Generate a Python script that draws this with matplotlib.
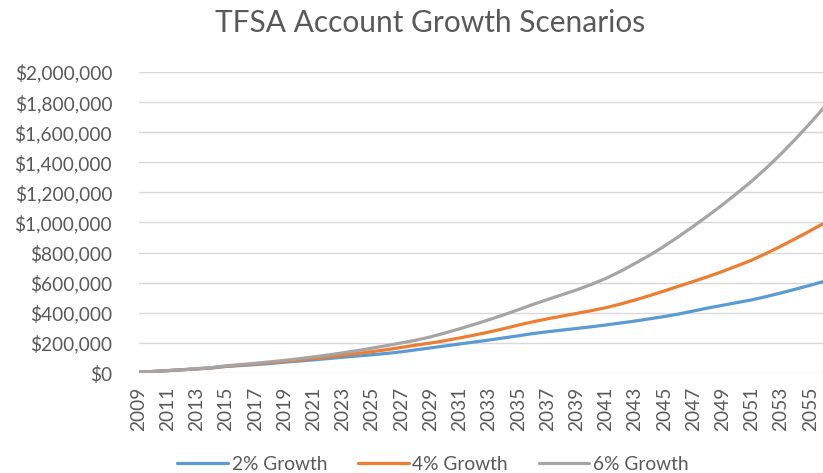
import matplotlib.pyplot as plt
from matplotlib.ticker import FuncFormatter, MultipleLocator

plt.rcParams['font.family'] = ['Lato', 'DejaVu Sans']

# yearly balances; the chart is cropped a little past 2055
years = list(range(2009, 2057))

growth_2 = [5000, 10200, 15600, 21200, 27000, 33000, 43500, 49500, 56000, 63000,
            72000, 79500, 87500, 96000, 105000, 113000, 121500, 130000, 141000, 154000,
            167000, 180000, 193000, 206000, 219000, 233000, 247000, 262000, 274000, 285000,
            296000, 307000, 319000, 332000, 345000, 360000, 375000, 392000, 412000, 432000,
            450000, 468000, 486000, 508000, 532000, 557000, 583000, 610000]

growth_4 = [5000, 10300, 15900, 21800, 28000, 34500, 45500, 52500, 60000, 68000,
            77000, 86500, 96500, 107000, 118000, 129500, 142000, 155000, 170000, 185000,
            199000, 215000, 233000, 252000, 272000, 294000, 318000, 340000, 360000, 378000,
            396000, 414000, 434000, 458000, 485000, 514000, 545000, 577000, 608000, 640000,
            675000, 712000, 750000, 795000, 843000, 893000, 945000, 998000]

growth_6 = [5000, 10300, 16000, 22200, 28800, 36000, 48000, 56000, 64500, 74000,
            84000, 95000, 107000, 120000, 134000, 149000, 165000, 182000, 200000, 218000,
            240000, 266000, 294000, 323000, 354000, 386000, 420000, 455000, 488000, 520000,
            552000, 588000, 628000, 675000, 728000, 782000, 842000, 907000, 975000, 1045000,
            1118000, 1195000, 1275000, 1362000, 1455000, 1555000, 1660000, 1770000]

series = [('2% Growth', growth_2, '#5B9BD5'),
          ('4% Growth', growth_4, '#ED7D31'),
          ('6% Growth', growth_6, '#A5A5A5')]

fig = plt.figure(figsize=(8.23, 4.73), dpi=100)
ax = fig.add_axes([0.1683, 0.2114, 0.8317, 0.6364])

for label, vals, color in series:
    ax.plot(years, vals, color=color, linewidth=2.3, label=label, solid_capstyle='round')

ax.set_xlim(2009, 2055.88)
ax.set_ylim(0, 2000000)
ax.yaxis.set_major_locator(MultipleLocator(200000))
ax.yaxis.set_major_formatter(FuncFormatter(lambda v, p: '${:,.0f}'.format(v)))
tick_years = years[0:47:2]
ax.set_xticks(tick_years)
ax.set_xticklabels([str(y) for y in tick_years], rotation=90)

ax.grid(axis='y', color='#D9D9D9', linewidth=1)
ax.set_axisbelow(True)
for s in ['top', 'right', 'left', 'bottom']:
    ax.spines[s].set_visible(False)
ax.tick_params(axis='both', length=0, labelsize=13.8, labelcolor='#595959')
ax.tick_params(axis='y', pad=19)
ax.tick_params(axis='x', pad=10)

fig.text(0.522, 0.951, 'TFSA Account Growth Scenarios', ha='center', va='center',
         fontsize=21.5, color='#595959')

fig.legend(loc='center', bbox_to_anchor=(0.526, 0.019), ncol=3, frameon=False,
           fontsize=13.8, handlelength=2.65, columnspacing=1.6, handletextpad=0.2,
           labelcolor='#595959')

fig.savefig('out.png', dpi=100)
